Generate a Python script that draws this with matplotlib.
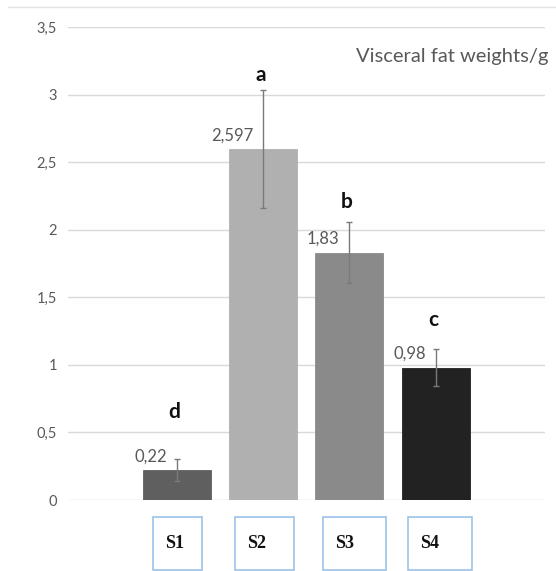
import matplotlib
matplotlib.use('Agg')
import matplotlib.pyplot as plt
from matplotlib.patches import Rectangle
from matplotlib.lines import Line2D
import matplotlib.transforms as mtransforms

# data
groups = ['S1', 'S2', 'S3', 'S4']
means = [0.22, 2.597, 1.83, 0.98]
errors = [0.08, 0.435, 0.226, 0.135]
value_labels = ['0,22', '2,597', '1,83', '0,98']
letters = ['d', 'a', 'b', 'c']
letter_y = [0.654, 3.145, 2.208, 1.332]
yticks = [0, 0.5, 1, 1.5, 2, 2.5, 3, 3.5]

bar_colors = ['#5f5f5f', '#b0b0b0', '#8a8a8a', '#222222']
box_w = [0.57, 0.69, 0.73, 0.75]
box_shift = [0.01, 0.02, 0.06, 0.05]

plt.rcParams['font.family'] = ['Lato', 'DejaVu Sans']

fig = plt.figure(figsize=(5.56, 5.71), dpi=100)
ax = fig.add_axes([0.1223, 0.1243, 0.8577, 0.8284])

x = list(range(len(groups)))
ax.bar(x, means, width=0.787, color=bar_colors, zorder=2,
       edgecolor=bar_colors, linewidth=0.6)
ax.errorbar(x, means, yerr=errors, fmt='none', ecolor='#7a7a7a',
            elinewidth=1.0, capsize=2.5, capthick=1.0, zorder=3)

ax.set_xlim(-1.257, 4.264)
ax.set_ylim(0, 3.5)
ax.set_yticks(yticks)
ax.set_yticklabels([f'{t:g}'.replace('.', ',') for t in yticks],
                   fontsize=10.5, color='#595959')
ax.tick_params(axis='y', length=0, pad=8)
ax.set_xticks([])
ax.grid(True, axis='y', color='#d9d9d9', linewidth=1.0, zorder=0)
ax.set_axisbelow(True)
for s in ax.spines.values():
    s.set_visible(False)

# valeurs au-dessus des barres
for i, (v, lab) in enumerate(zip(means, value_labels)):
    ax.annotate(lab, xy=(i, v), xytext=(-7, 10), textcoords='offset points',
                ha='right', va='center', fontsize=12, color='#595959')

# lettres de significativite
for i, (lt, ly) in enumerate(zip(letters, letter_y)):
    ax.text(i - 0.03, ly, lt, ha='center', va='center', fontsize=15,
            fontweight='bold', color='#111111')

ax.text(1.008, 0.938, 'Visceral fat weights/g', transform=ax.transAxes,
        ha='right', va='center', fontsize=14.5, color='#595959')

# boites des labels
trans = mtransforms.blended_transform_factory(ax.transData, fig.transFigure)
for i, g in enumerate(groups):
    cx = i + box_shift[i]
    left = cx - box_w[i] / 2
    ax.add_patch(Rectangle((left, 1 - 570 / 571), box_w[i], 53 / 571,
                           transform=trans, fill=False, edgecolor='#9cc2ea',
                           linewidth=1.2, clip_on=False))
    fig.text(left + 0.14, 1 - 543 / 571, g, transform=trans,
             ha='left', va='center', fontsize=13, fontweight='bold',
             family=['Liberation Serif', 'DejaVu Serif'], color='#111111')

# ligne du cadre en haut
fig.add_artist(Line2D([8 / 556, 1.0], [1 - 7 / 571] * 2, color='#e3e3e3',
                      linewidth=1.0, transform=fig.transFigure))

fig.savefig('out.png', dpi=100, facecolor='white')
